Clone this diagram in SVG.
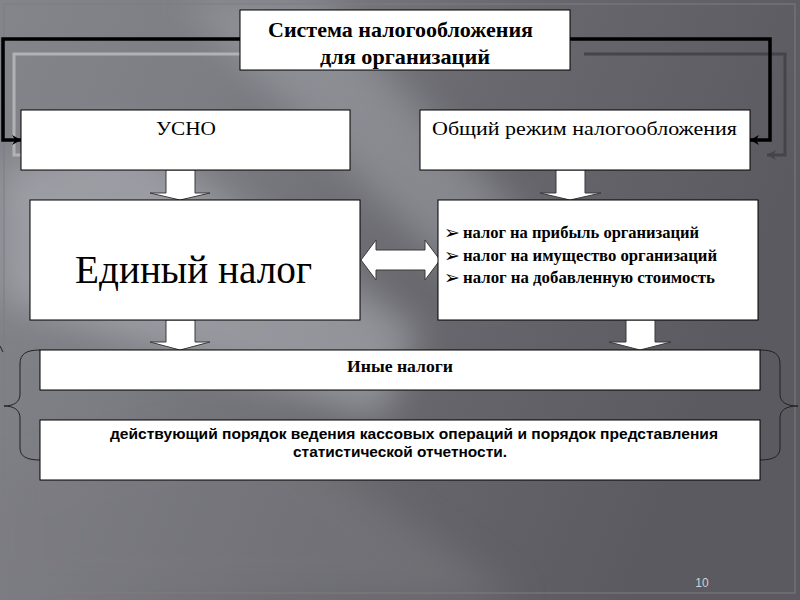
<svg xmlns="http://www.w3.org/2000/svg" width="800" height="600" viewBox="0 0 800 600">
<defs>
<linearGradient id="bg" x1="0" y1="0" x2="1" y2="0.3">
<stop offset="0" stop-color="#84848b"/>
<stop offset="0.3" stop-color="#7c7c83"/>
<stop offset="0.6" stop-color="#68686e"/>
<stop offset="1" stop-color="#5a5a60"/>
</linearGradient>
<filter id="blur" x="-20%" y="-20%" width="140%" height="140%"><feGaussianBlur stdDeviation="18"/></filter>
<marker id="ahB" markerWidth="10" markerHeight="10" refX="9" refY="5" orient="auto" markerUnits="userSpaceOnUse">
<path d="M0,0 L9,5 L0,10 L3,5 Z" fill="#000"/>
</marker>
<marker id="ahG" markerWidth="10" markerHeight="10" refX="9" refY="5" orient="auto" markerUnits="userSpaceOnUse">
<path d="M0,0 L9,5 L0,10 L3,5 Z" fill="#b2b2b4"/>
</marker>
<marker id="ahG2" markerWidth="10" markerHeight="10" refX="9" refY="5" orient="auto" markerUnits="userSpaceOnUse">
<path d="M0,0 L9,5 L0,10 L3,5 Z" fill="#454549"/>
</marker>
</defs>
<style>
.box{fill:#fff;stroke:#000;stroke-width:1}
.barrow{fill:#fff;stroke:#3a3a3a;stroke-width:1}
.serif{font-family:"Liberation Serif","Times New Roman",serif;fill:#000}
.sans{font-family:"Liberation Sans",Arial,sans-serif;fill:#000}
.bullet{font-family:"DejaVu Sans",sans-serif;font-size:19px;fill:#000}
</style>
<rect width="800" height="600" fill="url(#bg)"/>
<g filter="url(#blur)" opacity="0.55">
<polygon points="0,170 120,130 420,330 380,420 0,300" fill="#b4b4bc"/>
<polygon points="180,0 320,0 560,260 480,300" fill="#a0a0a8"/>
<polygon points="0,480 260,420 520,600 0,600" fill="#7a7a80"/>
</g>
<rect x="4" y="4" width="791" height="589" fill="none" stroke="#7c7c80" stroke-width="1"/>

<g id="connectors" fill="none">
<path d="M253,54 H14 V155 H33" stroke="#b2b2b4" stroke-width="3" marker-end="url(#ahG)"/>
<path d="M584,54 H785 V155 H767" stroke="#454549" stroke-width="3" marker-end="url(#ahG2)"/>
<path d="M240,39 H3 V140 H21" stroke="#000" stroke-width="3.5" marker-end="url(#ahB)"/>
<path d="M570,39 H770 V140 H750" stroke="#000" stroke-width="3.5" marker-end="url(#ahB)"/>
<path class="barrow" d="M166,170 H195 V193 H210 L180,200 L150,193 H166 Z"/>
<path class="barrow" d="M556,170 H585 V193 H601 L570,200 L540,193 H556 Z"/>
<path class="barrow" d="M166,320 H195 V342 H210 L180,350 L150,342 H166 Z"/>
<path class="barrow" d="M626,320 H655 V342 H671 L640,350 L609,342 H626 Z"/>
<path class="barrow" d="M361,260 L376,240 V250 H425 V240 L440,260 L425,280 V270 H376 V280 Z"/>
<path d="M40,350 C26,350 20,354 20,364 V394 C20,402 14,406 4,406 C14,406 20,410 20,418 V448 C20,456 26,460 40,460" stroke="#222" stroke-width="1"/>
<path d="M760,350 C774,350 780,354 780,364 V394 C780,402 786,406 798,406 C786,406 780,410 780,418 V448 C780,456 774,460 760,460" stroke="#222" stroke-width="1"/>
<path d="M0,346 L3,352" stroke="#222" stroke-width="1"/>
</g>

<g id="title">
<rect class="box" x="240" y="10" width="330" height="60"/>
<text class="serif" x="268" y="37" font-size="21" font-weight="bold" textLength="265" lengthAdjust="spacingAndGlyphs">Система налогообложения</text>
<text class="serif" x="320" y="64" font-size="21" font-weight="bold" textLength="170" lengthAdjust="spacingAndGlyphs">для организаций</text>
</g>

<g id="usno">
<rect class="box" x="21" y="110" width="329" height="60"/>
<text class="serif" x="156" y="135" font-size="19" textLength="60" lengthAdjust="spacingAndGlyphs">УСНО</text>
</g>

<g id="general">
<rect class="box" x="420" y="110" width="330" height="60"/>
<text class="serif" x="432" y="135" font-size="19" textLength="305" lengthAdjust="spacingAndGlyphs">Общий режим налогообложения</text>
</g>

<g id="single-tax">
<rect class="box" x="30" y="200" width="330" height="120"/>
<text class="serif" x="75" y="283" font-size="40" textLength="237" lengthAdjust="spacingAndGlyphs">Единый налог</text>
</g>

<g id="taxes">
<rect class="box" x="438" y="200" width="320" height="120"/>
<text class="bullet" x="444" y="239">➢</text>
<text class="bullet" x="444" y="262">➢</text>
<text class="bullet" x="444" y="284">➢</text>
<text class="serif" x="463" y="238" font-size="16" font-weight="bold" textLength="236" lengthAdjust="spacingAndGlyphs">налог на прибыль организаций</text>
<text class="serif" x="463" y="261" font-size="16" font-weight="bold" textLength="254" lengthAdjust="spacingAndGlyphs">налог на имущество организаций</text>
<text class="serif" x="463" y="283" font-size="16" font-weight="bold" textLength="252" lengthAdjust="spacingAndGlyphs">налог на добавленную стоимость</text>
</g>

<g id="other-taxes">
<rect class="box" x="40" y="350" width="720" height="40"/>
<text class="serif" x="347" y="372" font-size="17" font-weight="bold" textLength="106" lengthAdjust="spacingAndGlyphs">Иные налоги</text>
</g>

<g id="cash">
<rect class="box" x="40" y="420" width="720" height="60"/>
<text class="sans" x="110" y="439" font-size="15.5" font-weight="bold" textLength="608" lengthAdjust="spacingAndGlyphs">действующий порядок ведения кассовых операций и порядок представления</text>
<text class="sans" x="293" y="457" font-size="15.5" font-weight="bold" textLength="214" lengthAdjust="spacingAndGlyphs">статистической отчетности.</text>
</g>

<text x="702" y="587" font-family="'Liberation Sans',Arial,sans-serif" font-size="12" fill="#d0d0d4" text-anchor="middle">10</text>
</svg>
